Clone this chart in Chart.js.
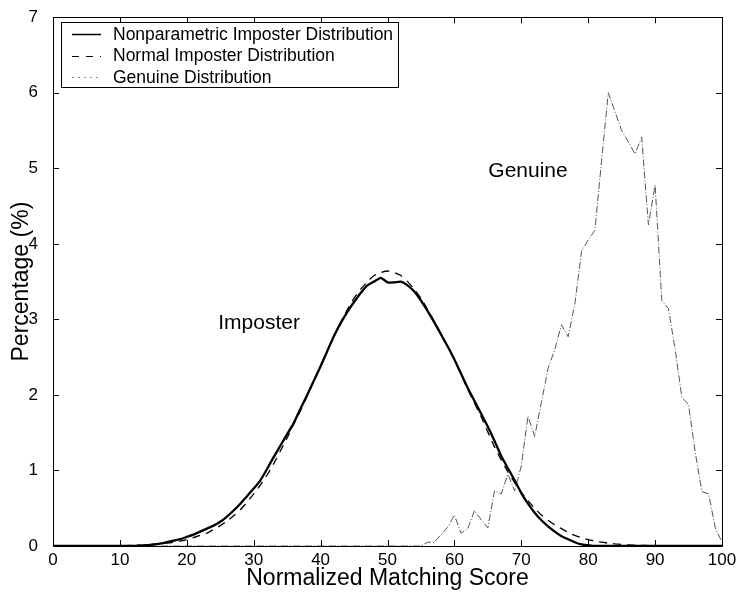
<!DOCTYPE html>
<html>
<head>
<meta charset="utf-8">
<script src="https://cdn.jsdelivr.net/npm/chart.js@4.4.1/dist/chart.umd.min.js"></script>
<style>
  html, body { margin: 0; padding: 0; background: #fff; }
  #wrap { width: 736px; height: 598px; }
</style>
</head>
<body>
<div id="wrap"><canvas id="scoreChart"></canvas></div>
<script>
// matching score (x)
const scores = [
  0, 1, 2, 3, 4, 5, 6, 7, 8, 9, 10, 11, 12, 13, 14, 15, 16, 17, 18, 19,
  20, 21, 22, 23, 24, 25, 26, 27, 28, 29, 30, 31, 32, 33, 34, 35, 36, 37, 38, 39,
  40, 41, 42, 43, 44, 45, 46, 47, 48, 49, 50, 51, 52, 53, 54, 55, 56, 57, 58, 59,
  60, 61, 62, 63, 64, 65, 66, 67, 68, 69, 70, 71, 72, 73, 74, 75, 76, 77, 78, 79,
  80, 81, 82, 83, 84, 85, 86, 87, 88, 89, 90, 91, 92, 93, 94, 95, 96, 97, 98, 99, 100
];

// percentage values
const nonparamImposter = [
  0, 0, 0, 0, 0, 0, 0, 0, 0, 0, 0, 0, 0, 0.005, 0.01, 0.02, 0.03, 0.05, 0.07, 0.09,
  0.12, 0.15, 0.19, 0.23, 0.27, 0.32, 0.39, 0.47, 0.56, 0.66, 0.76, 0.87, 1.02, 1.18, 1.33, 1.48, 1.63, 1.82, 2.0, 2.19,
  2.38, 2.58, 2.78, 2.95, 3.1, 3.23, 3.35, 3.45, 3.5, 3.55, 3.49, 3.49, 3.5, 3.45, 3.37, 3.25, 3.11, 2.96, 2.8, 2.64,
  2.47, 2.28, 2.09, 1.92, 1.75, 1.58, 1.39, 1.19, 1.03, 0.87, 0.7, 0.56, 0.44, 0.34, 0.26, 0.19, 0.13, 0.09, 0.05, 0.02,
  0.01, 0, 0, 0, 0, 0, 0, 0, 0, 0, 0, 0, 0, 0, 0, 0, 0, 0, 0, 0, 0
];
const normalImposter = [
  0, 0, 0, 0, 0, 0, 0, 0, 0, 0, 0.004, 0.005, 0.008, 0.011, 0.015, 0.021, 0.028, 0.038, 0.05, 0.066,
  0.085, 0.11, 0.14, 0.17, 0.22, 0.27, 0.33, 0.40, 0.48, 0.58, 0.69, 0.81, 0.94, 1.09, 1.26, 1.43, 1.62, 1.79, 1.99, 2.19,
  2.39, 2.59, 2.78, 2.96, 3.13, 3.28, 3.40, 3.50, 3.58, 3.62, 3.64, 3.62, 3.58, 3.50, 3.40, 3.28, 3.13, 2.97, 2.81, 2.64,
  2.46, 2.27, 2.07, 1.89, 1.71, 1.51, 1.31, 1.14, 0.98, 0.84, 0.71, 0.6, 0.5, 0.41, 0.34, 0.28, 0.23, 0.18, 0.14, 0.11,
  0.085, 0.066, 0.05, 0.038, 0.028, 0.021, 0.015, 0.011, 0.008, 0.005, 0.004, 0, 0, 0, 0, 0, 0, 0, 0, 0, 0
];
const genuine = [
  0, 0, 0, 0, 0, 0, 0, 0, 0, 0, 0, 0, 0, 0, 0, 0, 0, 0, 0, 0,
  0, 0, 0, 0, 0, 0, 0, 0, 0, 0, 0, 0, 0, 0, 0, 0, 0, 0, 0, 0,
  0, 0, 0, 0, 0, 0, 0, 0, 0, 0, 0, 0, 0, 0, 0, 0, 0.05, 0.05, 0.15, 0.25,
  0.41, 0.17, 0.23, 0.47, 0.35, 0.24, 0.73, 0.69, 0.95, 0.73, 1.06, 1.72, 1.45, 1.9, 2.35, 2.6, 2.93, 2.77, 3.2, 3.9,
  4.05, 4.18, 5.1, 6.0, 5.75, 5.5, 5.35, 5.19, 5.41, 4.25, 4.78, 3.25, 3.14, 2.6, 1.97, 1.87, 1.24, 0.72, 0.69, 0.24, 0.05
];

const xTicks = [0, 10, 20, 30, 40, 50, 60, 70, 80, 90, 100];
const yTicks = [0, 1, 2, 3, 4, 5, 6, 7];
const seriesNames = ['Nonparametric Imposter Distribution', 'Normal Imposter Distribution', 'Genuine Distribution'];
// in-plot labels: [text, score, percentage]
const curveLabels = [['Genuine', 71, 4.96], ['Imposter', 30.8, 2.95]];

const FONT = '"Liberation Sans", Arial, Helvetica, sans-serif';
Chart.defaults.font.family = FONT;
Chart.defaults.color = '#000';

const toPoints = arr => arr.map((v, i) => ({ x: scores[i], y: v }));

// 축, 눈금, 범례, 곡선 이름
const frameAndLegend = {
  id: 'frameAndLegend',
  afterDraw(chart) {
    const { ctx, chartArea: a, scales: { x, y } } = chart;
    ctx.save();
    ctx.strokeStyle = '#000';
    ctx.lineWidth = 1;
    ctx.setLineDash([]);
    ctx.strokeRect(Math.round(a.left) + 0.5, Math.round(a.top) + 0.5,
      Math.round(a.right - a.left), Math.round(a.bottom - a.top));

    ctx.beginPath();
    xTicks.forEach(v => {
      const px = Math.round(x.getPixelForValue(v)) + 0.5;
      ctx.moveTo(px, a.bottom); ctx.lineTo(px, a.bottom - 6);
      ctx.moveTo(px, a.top); ctx.lineTo(px, a.top + 6);
    });
    yTicks.forEach(v => {
      const py = Math.round(y.getPixelForValue(v)) + 0.5;
      ctx.moveTo(a.left, py); ctx.lineTo(a.left + 6, py);
      ctx.moveTo(a.right, py); ctx.lineTo(a.right - 6, py);
    });
    ctx.stroke();

    // curve names
    ctx.fillStyle = '#000';
    ctx.font = '21px ' + FONT;
    ctx.textAlign = 'center';
    ctx.textBaseline = 'middle';
    curveLabels.forEach(([t, sx, sy]) => {
      ctx.fillText(t, x.getPixelForValue(sx), y.getPixelForValue(sy));
    });

    // legend box
    const bx = 61, by = 22, bw = 337, bh = 65;
    ctx.fillStyle = '#fff';
    ctx.fillRect(bx, by, bw, bh);
    ctx.strokeRect(bx + 0.5, by + 0.5, bw, bh);
    ctx.font = '17.5px ' + FONT;
    ctx.textAlign = 'left';
    seriesNames.forEach((name, i) => {
      const rowY = by + 12 + i * 21.5;
      ctx.beginPath();
      ctx.strokeStyle = i === 2 ? '#888' : '#000';
      ctx.lineWidth = i === 0 ? 1.5 : 1;
      ctx.setLineDash(i === 0 ? [] : (i === 1 ? [7, 7] : [2, 4]));
      ctx.moveTo(72, Math.round(rowY) + 0.5);
      ctx.lineTo(101, Math.round(rowY) + 0.5);
      ctx.stroke();
      ctx.fillStyle = '#000';
      ctx.fillText(name, 113, rowY + 1);
    });
    ctx.restore();
  }
};

new Chart(document.getElementById('scoreChart'), {
  type: 'line',
  data: {
    datasets: [
      {
        label: seriesNames[0],
        data: toPoints(nonparamImposter),
        borderColor: '#000',
        borderWidth: 2.3,
        pointRadius: 0,
        tension: 0.2
      },
      {
        label: seriesNames[1],
        data: toPoints(normalImposter),
        borderColor: '#000',
        borderWidth: 1.3,
        borderDash: [8, 6],
        pointRadius: 0,
        tension: 0.2
      },
      {
        label: seriesNames[2],
        data: toPoints(genuine),
        borderColor: '#555',
        borderWidth: 1,
        borderDash: [7, 2, 1, 2],
        pointRadius: 0,
        tension: 0
      }
    ]
  },
  options: {
    responsive: true,
    maintainAspectRatio: false,
    animation: false,
    layout: { padding: { top: 12, right: 14, left: 0, bottom: 0 } },
    plugins: { legend: { display: false }, tooltip: { enabled: false } },
    scales: {
      x: {
        type: 'linear',
        min: 0,
        max: 100,
        afterBuildTicks: s => { s.ticks = xTicks.map(v => ({ value: v })); },
        afterFit: s => { s.height = 52; },
        grid: { display: false },
        border: { display: false },
        ticks: { font: { size: 17 }, padding: -4, maxRotation: 0, autoSkip: false },
        title: {
          display: true,
          text: 'Normalized Matching Score',
          font: { size: 23 },
          padding: { top: 0, bottom: 6 }
        }
      },
      y: {
        min: 0,
        max: 7,
        afterBuildTicks: s => { s.ticks = yTicks.map(v => ({ value: v })); },
        afterFit: s => { s.width = 53; },
        grid: { display: false },
        border: { display: false },
        ticks: { font: { size: 17 }, padding: 7 },
        title: {
          display: true,
          text: 'Percentage (%)',
          font: { size: 23 },
          padding: { top: 8, bottom: 0 }
        }
      }
    }
  },
  plugins: [frameAndLegend]
});
</script>
</body>
</html>
